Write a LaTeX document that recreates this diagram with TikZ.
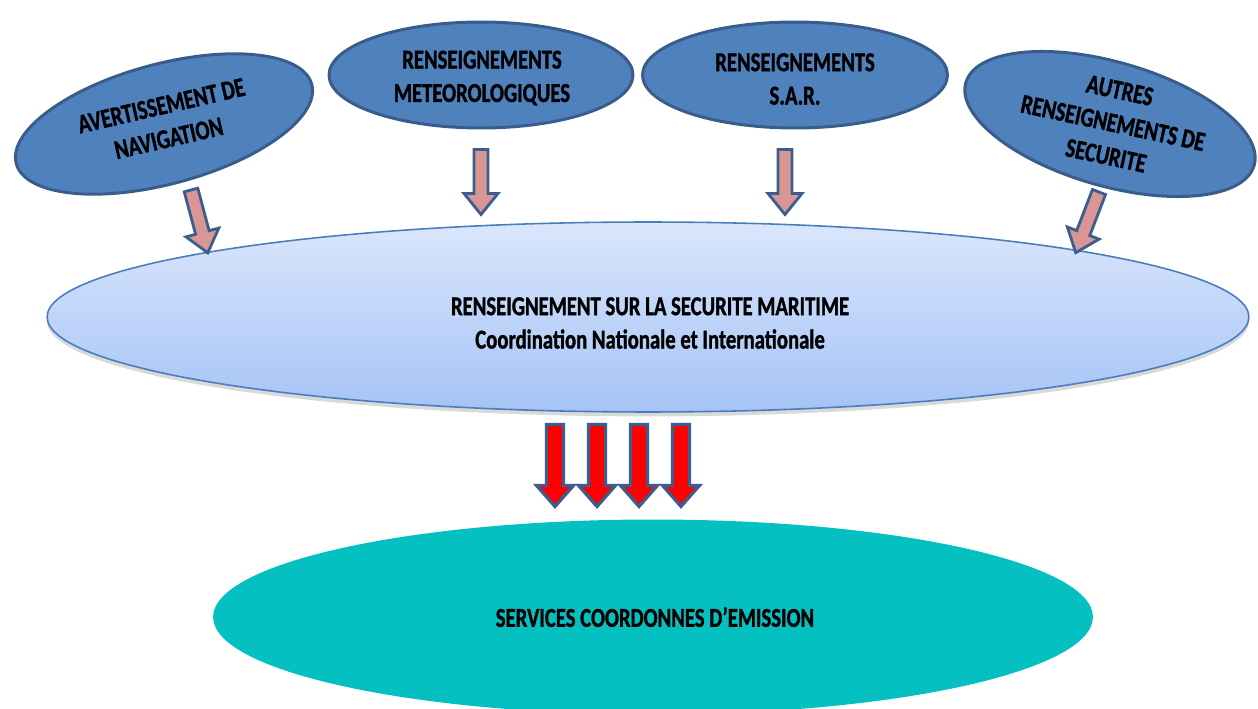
\documentclass[tikz,border=0pt]{standalone}
\usepackage{fontspec}
\setmainfont{Carlito}[FakeStretch=0.76,FakeBold=1.2]
\usetikzlibrary{shapes.geometric,shadows}
\definecolor{topfill}{HTML}{4F81BD}
\definecolor{topline}{HTML}{385D8A}
\definecolor{mainline}{HTML}{4A7EBB}
\definecolor{maintop}{HTML}{DAE6FC}
\definecolor{mainbot}{HTML}{A5C3F6}
\definecolor{teal}{HTML}{05C0C0}
\definecolor{pinkarr}{HTML}{D99694}
\definecolor{arrline}{HTML}{3C5E8C}
\tikzset{
  topell/.style={ellipse, draw=topline, fill=topfill, line width=1.7pt, inner sep=0pt},
  txt/.style={font=\bfseries\fontsize{15.5}{19}\selectfont, align=center, text=black, inner sep=0pt},
  pics/smallarrow/.style={code={
    \draw[draw=arrline, fill=pinkarr, line width=1.6pt]
      (-7,0) -- (7,0) -- (7,44) -- (17,44) -- (0,65) -- (-17,44) -- (-7,44) -- cycle;}},
  pics/redarrow/.style={code={
    \draw[draw=arrline, fill=red, line width=1.8pt]
      (-8.5,0) -- (8.5,0) -- (8.5,61) -- (18.5,61) -- (0,82) -- (-18.5,61) -- (-8.5,61) -- cycle;}}
}
\begin{document}
\begin{tikzpicture}[x=0.02cm,y=-0.02cm]
\useasboundingbox (0,0) rectangle (1258,709);
\begin{scope}
\clip (0,0) rectangle (1258,709);
% bottom ellipse
\node[ellipse, fill=teal, minimum width=17.6cm, minimum height=3.9cm, inner sep=0pt] (svc) at (653,617) {};
\node[txt] (svct) at (655,617) {SERVICES COORDONNES D’EMISSION};
% main ellipse
\node[ellipse, draw=mainline, line width=0.9pt, top color=maintop, bottom color=mainbot,
  drop shadow={shadow xshift=0pt, shadow yshift=-2.5pt, opacity=0.3},
  minimum width=24.04cm, minimum height=3.8cm, inner sep=0pt] (msi) at (648,317) {};
\node[txt] (msit) at (650,323) {RENSEIGNEMENT SUR LA SECURITE MARITIME\\Coordination Nationale et Internationale};
% top ellipses
\node[topell, rotate=15, minimum width=6.12cm, minimum height=2.4cm] (nav) at (164,124) {};
\node[txt, rotate=13] (navt) at (165,122) {AVERTISSEMENT DE\\NAVIGATION};
\node[topell, minimum width=6.08cm, minimum height=2.12cm] (met) at (481,75) {};
\node[txt] (mett) at (482,78) {RENSEIGNEMENTS\\METEOROLOGIQUES};
\node[topell, minimum width=6.1cm, minimum height=2.12cm] (sar) at (795,75) {};
\node[txt] (sart) at (795,79) {RENSEIGNEMENTS\\S.A.R.};
\node[topell, rotate=-16, minimum width=6.0cm, minimum height=2.48cm] (aut) at (1110,124) {};
\node[txt, rotate=-12] (autt) at (1113,123) {AUTRES\\RENSEIGNEMENTS DE\\SECURITE};
% small arrows
\coordinate (a1) at (191,190);
\coordinate (a2) at (481,149.5);
\coordinate (a3) at (785,149.5);
\coordinate (a4) at (1099,192);
\pic[rotate=15] at (a1) {smallarrow};
\pic at (a2) {smallarrow};
\pic at (a3) {smallarrow};
\pic[rotate=-21] at (a4) {smallarrow};
% red arrows
\foreach \xx in {555,597,639,681}{
  \coordinate (r\xx) at (\xx,424.5);
  \pic at (r\xx) {redarrow};
}
\end{scope}
\end{tikzpicture}
\end{document}
